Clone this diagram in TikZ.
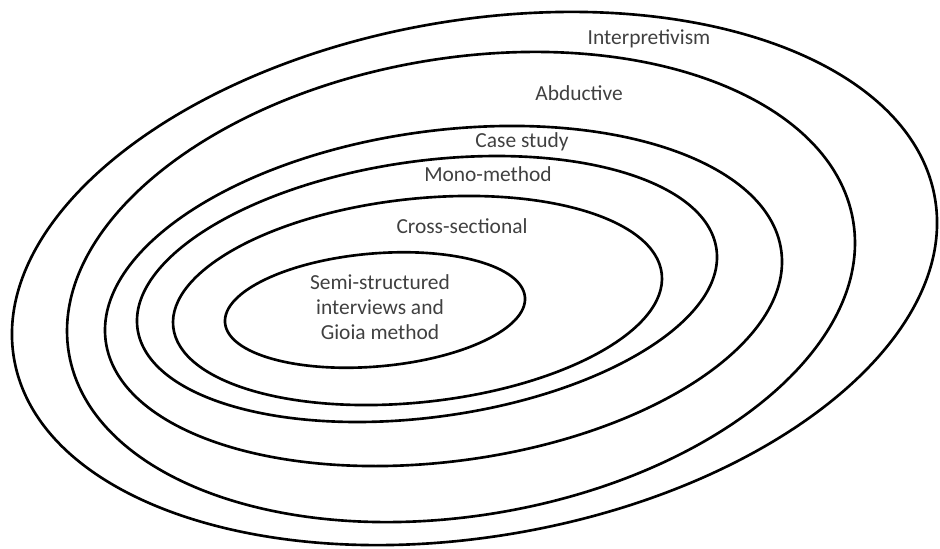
\documentclass[tikz,border=0pt]{standalone}
\usepackage{fontspec}
\setmainfont{Carlito}
\definecolor{txt}{RGB}{64,64,64}
\begin{document}
\begin{tikzpicture}[x=0.02cm,y=-0.02cm,
  ring/.style={draw=black,line width=1.5pt},
  lbl/.style={text=txt,font=\fontsize{12.2}{14.2}\selectfont,inner sep=0pt,align=center}]
\useasboundingbox (0,0) rectangle (940,548);
\draw[ring,rotate around={9.95:(474.5,278.5)}] (474.5,278.5) ellipse [x radius=467.4,y radius=257.9];
\draw[ring,rotate around={9.6:(461,287)}] (461,287) ellipse [x radius=397.7,y radius=228.7];
\draw[ring,rotate around={7.6:(443.5,296)}] (443.5,296) ellipse [x radius=340.8,y radius=165.4];
\draw[ring,rotate around={7.8:(427,289)}] (427,289) ellipse [x radius=292.2,y radius=128.1];
\draw[ring,rotate around={6.2:(417.5,300.5)}] (417.5,300.5) ellipse [x radius=245.7,y radius=101.7];
\draw[ring,rotate around={4.9:(375,310)}] (375,310) ellipse [x radius=150.5,y radius=56.5];
\node[lbl] (interp) at (649,39) {Interpretivism};
\node[lbl] (abd) at (579,93) {Abductive};
\node[lbl] (case) at (522,142) {Case study};
\node[lbl] (mono) at (488,174) {Mono-method};
\node[lbl] (cross) at (462,226) {Cross-sectional};
\node[lbl] (semi) at (380,307) {Semi-structured\\interviews and\\Gioia method};
\end{tikzpicture}
\end{document}
